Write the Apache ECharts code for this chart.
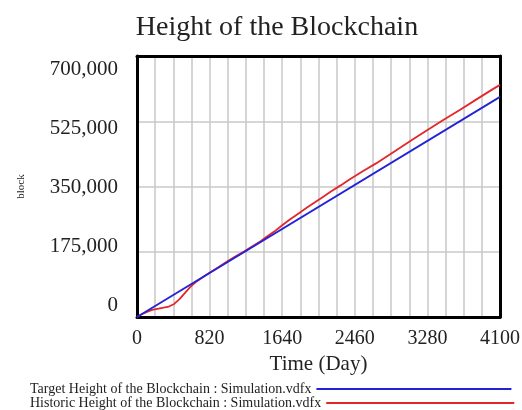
<!DOCTYPE html>
<html>
<head>
<meta charset="utf-8">
<script src="https://cdn.jsdelivr.net/npm/echarts@6/dist/echarts.min.js"></script>
<style>html,body{margin:0;padding:0;background:#fff}#c{width:522px;height:410px}</style>
</head>
<body>
<div id="c"></div>
<script>
const titleText = 'Height of the Blockchain';
const xName = 'Time (Day)';
const yName = 'block';
const targetName = 'Target Height of the Blockchain : Simulation.vdfx';
const historicName = 'Historic Height of the Blockchain : Simulation.vdfx';

const targetDays = [0, 4100];
const targetValues = [0, 590400];

const historicDays = [0, 60, 120, 170, 230, 300, 360, 420, 480, 540, 600, 660, 730, 820, 910, 1000, 1095, 1200, 1300, 1400, 1460, 1550, 1640, 1730, 1825, 1920, 2010, 2100, 2190, 2300, 2400, 2550, 2700, 2920, 3100, 3285, 3450, 3650, 3830, 4015, 4100];
const historicValues = [0, 8000, 14500, 19000, 22000, 25000, 28000, 35000, 48000, 64000, 80000, 93000, 104500, 118500, 132000, 146000, 160000, 174000, 189000, 204000, 214500, 229000, 246000, 262000, 277500, 293500, 308000, 322000, 336500, 353000, 369000, 391000, 412000, 446000, 474000, 502500, 527000, 556000, 583000, 610500, 622500];

const xTicks = [0, 820, 1640, 2460, 3280, 4100];
const yTicks = [0, 175000, 350000, 525000, 700000];
// Vensim-style label placement: tick labels are drawn evenly spaced, inset from the frame ends
const yLabelInsetLow = 32000;
const yLabelInsetHigh = 662500;

const serif = 'Liberation Serif, Times New Roman, serif';
const chart = echarts.init(document.getElementById('c'));
const pair = (xs, ys) => xs.map((x, i) => [x, ys[i]]);
const yLabelPositions = yTicks.map((_, i) => yLabelInsetLow + (yLabelInsetHigh - yLabelInsetLow) * i / (yTicks.length - 1));
const yLabelFor = v => {
  let best = 0;
  yLabelPositions.forEach((p, i) => { if (Math.abs(p - v) < Math.abs(yLabelPositions[best] - v)) best = i; });
  return yTicks[best].toLocaleString('en-US');
};
const frameLine = { show: true, onZero: false, lineStyle: { color: '#000', width: 3 } };
const xMin = xTicks[0], xMax = xTicks[xTicks.length - 1];
const yMin = yTicks[0], yMax = yTicks[yTicks.length - 1];

chart.setOption({
  animation: false,
  backgroundColor: '#fff',
  title: {
    text: titleText, left: 272, textAlign: 'center', top: 9,
    textStyle: { fontFamily: serif, fontSize: 28, fontWeight: 'normal', color: '#222' }
  },
  grid: { left: 137, right: 22, top: 56, bottom: 93, show: false,
    containLabel: false, outerBoundsMode: 'none' },
  legend: [
    { data: [targetName], left: 25, top: 377, align: 'right', itemWidth: 195, itemHeight: 2, icon: 'rect',
      textStyle: { fontFamily: serif, fontSize: 14, color: '#222' } },
    { data: [historicName], left: 25, top: 391, align: 'right', itemWidth: 188, itemHeight: 2, icon: 'rect',
      textStyle: { fontFamily: serif, fontSize: 14, color: '#222' } }
  ],
  xAxis: [{
    type: 'value', min: xMin, max: xMax, interval: 820,
    name: xName, nameLocation: 'middle', nameGap: 32,
    nameTextStyle: { fontFamily: serif, fontSize: 21, color: '#222' },
    axisLine: frameLine, axisTick: { show: false },
    axisLabel: { fontFamily: serif, fontSize: 20, color: '#222', margin: 12, formatter: v => String(v) },
    splitLine: { show: true, lineStyle: { color: '#c8c8c8', width: 1.5 } },
    minorTick: { show: false, splitNumber: 4 },
    minorSplitLine: { show: true, lineStyle: { color: '#c8c8c8', width: 1.5 } }
  }, {
    type: 'value', position: 'top', min: xMin, max: xMax,
    axisLine: frameLine, axisTick: { show: false }, axisLabel: { show: false }, splitLine: { show: false }
  }],
  yAxis: [{
    type: 'value', min: yMin, max: yMax, interval: 175000,
    name: yName, nameLocation: 'middle', nameGap: 110, nameRotate: 90,
    nameTextStyle: { fontFamily: serif, fontSize: 11, color: '#222' },
    axisLine: frameLine, axisTick: { show: false },
    axisLabel: { fontFamily: serif, fontSize: 21, color: '#222', margin: 19,
      customValues: yLabelPositions,
      formatter: v => yLabelFor(v) },
    splitLine: { show: true, lineStyle: { color: '#c8c8c8', width: 1.5 } }
  }, {
    type: 'value', position: 'right', min: yMin, max: yMax,
    axisLine: frameLine, axisTick: { show: false }, axisLabel: { show: false }, splitLine: { show: false }
  }],
  series: [
    { name: targetName, type: 'line', data: pair(targetDays, targetValues), showSymbol: false,
      lineStyle: { color: '#2222d6', width: 1.8 }, itemStyle: { color: '#2222d6' }, z: 3 },
    { name: historicName, type: 'line', data: pair(historicDays, historicValues), showSymbol: false,
      lineStyle: { color: '#e2262a', width: 1.8 }, itemStyle: { color: '#e2262a' }, z: 2 }
  ]
});
</script>
</body>
</html>
